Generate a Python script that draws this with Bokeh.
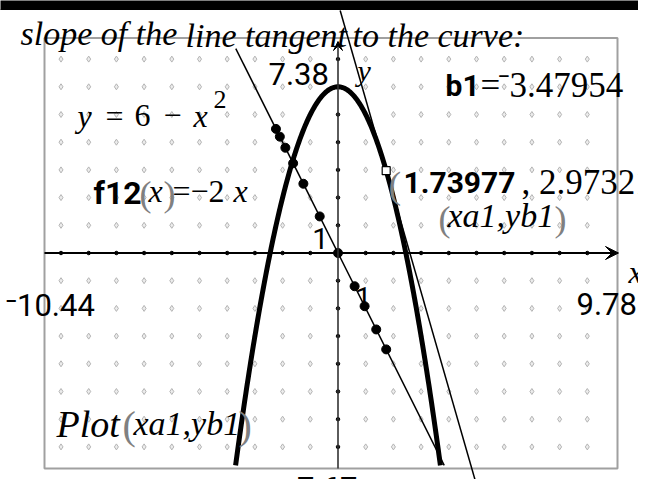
import numpy as np
from bokeh.plotting import figure
from bokeh.models import Range1d, Arrow, VeeHead
from bokeh.core.properties import value
from bokeh.embed import file_html
from bokeh.resources import INLINE

# ---- chart values ----
x_min, x_max = -10.44, 9.78          # window
y_min, y_max = -7.67, 7.38
parab_c = 6.0                        # y = 6 - x^2
f12_slope = -2.0                     # f12(x) = -2x
xa1 = 1.73977                        # tangent point
yb1 = 2.97321
b1 = -3.47954                        # slope of tangent
pts_x = [-2.24, -2.10, -1.90, -1.62, -1.25, -0.66, 0.0, 0.60, 0.96, 1.38, 1.73977]
pts_y = [4.48, 4.20, 3.80, 3.24, 2.50, 1.32, 0.0, -1.20, -1.92, -2.76, -3.47954]
grid_x = list(range(-10, 10))
grid_y = list(range(-7, 8))

# ---- pixel layout helpers (screen px of the reference -> data) ----
OX, OY, S = 337.5, 252.5, 27.7
def X(px):
    return (px - OX) / S
def Y(py):
    return (OY - py) / S

W, H = 638, 479
p = figure(width=W, height=H, output_backend="svg", toolbar_location=None,
           x_range=Range1d(X(0), X(W)), y_range=Range1d(Y(H), Y(0)),
           min_border=0, x_axis_location=None, y_axis_location=None)
p.grid.visible = False
p.outline_line_color = None
p.background_fill_color = "white"

SERIF = value("Liberation Serif")
SANS = value("Roboto")

# top black bar
p.quad(left=X(-5), right=X(660), top=Y(-5), bottom=Y(9), color="black")

# grey frame
p.quad(left=X(44), right=X(617), top=Y(37.5), bottom=Y(468), fill_color=None,
       line_color="#a0a0a0", line_width=2)

# grid dots
gx, gy = [], []
for gxv in grid_x:
    for gyv in grid_y:
        if gxv != 0 and gyv != 0:
            gx.append(gxv); gy.append(gyv)
p.scatter(gx, gy, marker="diamond", size=6, line_color="#b4b4b4",
          fill_color="#ececec", line_width=1)

# axes
p.add_layout(Arrow(end=VeeHead(size=13, fill_color="black", line_color="black"),
                   x_start=X(44), y_start=0, x_end=X(618), y_end=0,
                   line_color="black", line_width=1.8))
p.add_layout(Arrow(end=VeeHead(size=9, fill_color="black", line_color="black"),
                   x_start=0, y_start=Y(468), x_end=0, y_end=Y(41),
                   line_color="#333333", line_width=1.6))
tx = [v for v in grid_x if v != 0]
ty = [v for v in grid_y if v != 0]
p.scatter(tx, [0] * len(tx), size=3.5, color="black")
p.scatter([0] * len(ty), ty, size=3.5, color="black")

# parabola y = 6 - x^2 clipped to the window
xb = np.sqrt(parab_c - y_min)
xs = np.linspace(-xb, xb, 300)
p.line(xs, parab_c - xs ** 2, line_color="black", line_width=5)

# f12(x) = -2x clipped to the window
fx = [y_max / f12_slope, y_min / f12_slope]
p.line(fx, [f12_slope * v for v in fx], line_color="black", line_width=1.5)

# tangent line at xa1 (drawn across the whole screen)
ty0, ty1 = Y(10), Y(495)
p.line([xa1 + (ty0 - yb1) / b1, xa1 + (ty1 - yb1) / b1], [ty0, ty1],
       line_color="black", line_width=1.5)

# plotted points (xa1, yb1)
p.scatter(pts_x, pts_y, size=9, color="black")

# point on the curve
p.scatter([xa1], [parab_c - xa1 ** 2], marker="square", size=8,
          fill_color="white", line_color="black", line_width=1.2)

def label(px, py, s, font=SERIF, size=34, style="normal", color="black", align="left"):
    p.text(x=[X(px)], y=[Y(py)], text=[s], text_font=font,
           text_font_size=value(f"{size}px"), text_font_style=style,
           text_color=color, text_align=align, text_baseline="alphabetic")

# title
label(20, 33, "slope of the", style="italic", size=34)
label(185, 35, "line tangent", style="italic", size=34)
label(352, 35, "to the curve:", style="italic", size=34)

# window labels
label(268, 73, f"{y_max}", font=SANS, size=31)
label(5, 305, f"\u207b{abs(x_min)}", font=SANS, size=31)
label(576, 303, f"{x_max}", font=SANS, size=31)
label(285, 488, f"\u207b{abs(y_min)}", font=SANS, size=31)
label(628, 271, "x", style="italic", size=32)
label(357, 70, "y", style="italic", size=30)
label(363, 297, "1", font=SANS, size=29, align="center")
label(320, 238, "1", font=SANS, size=29, align="center")

# b1 = -3.47954
label(445, 85, "b1", font=SANS, size=30, style="bold")
label(480, 85, "=", size=35)
label(497, 85, f"\u207b{abs(b1)}", size=35)

# y = 6 - x^2
label(77, 115, "y", style="italic", size=32)
label(105, 115, "=", size=32)
label(134, 115, "6", size=32)
label(163, 115, "\u2212", size=32)
label(193, 115, "x", style="italic", size=32)
label(213, 99, "2", size=26)

# f12(x) = -2x
label(93, 192, "f12", font=SANS, size=32, style="bold")
label(139, 193, "(", size=36, color="#808080")
label(148, 190, "x", style="italic", size=32)
label(163, 193, ")", size=36, color="#808080")
label(172, 190, "=\u22122", size=32)
label(233, 190, "x", style="italic", size=32)

# coordinates of the point
label(388, 184, "(", size=38, color="#808080")
label(403, 182, f"{xa1}", font=SANS, size=30, style="bold")
label(521, 182, f", {yb1}", size=35)
label(438, 218, "(", size=36, color="#808080")
label(447, 215, "xa1,yb1", style="italic", size=34)
label(554, 218, ")", size=36, color="#808080")

# Plot(xa1, yb1)
label(56, 423, "Plot", style="italic", size=38)
label(122, 425, "(", size=40, color="#808080")
label(133, 423, "xa1,yb1", style="italic", size=34)
label(238, 425, ")", size=40, color="#808080")

open("out.html", "w").write(file_html(p, INLINE))
